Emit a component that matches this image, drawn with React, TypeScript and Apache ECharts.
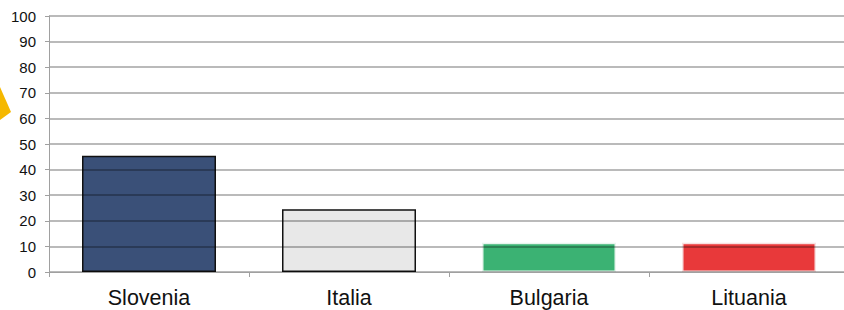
import React, { useEffect, useRef } from "react";
import * as echarts from "echarts";

const categories = ["Slovenia", "Italia", "Bulgaria", "Lituania"];
const values = [45.4, 24.5, 11.4, 11.4];
const barColors = ["#3a5078", "#e8e8e8", "#3bb273", "#e8393a"];
const barBorders = ["#111111", "#111111", "#e8f5ee", "#f8e0e0"];
const yTicks = [0, 10, 20, 30, 40, 50, 60, 70, 80, 90, 100];

export default function App() {
  const ref = useRef<HTMLDivElement>(null);
  useEffect(() => {
    if (!ref.current) return;
    const chart = echarts.init(ref.current, undefined, { renderer: "svg" });
    chart.setOption({
      animation: false,
      backgroundColor: "#ffffff",
      grid: { left: 49, right: 11, top: 16, bottom: 38, containLabel: false },
      graphic: [
        {
          type: "polygon",
          shape: { points: [[0, 87], [11, 112], [0, 120]] },
          style: { fill: "#f5b800" },
          z: -1,
        },
      ],
      xAxis: {
        type: "category",
        data: categories,
        axisLine: { lineStyle: { color: "#a0a0a0", width: 1 } },
        axisTick: { show: true, alignWithLabel: false, length: 5, lineStyle: { color: "#a0a0a0" } },
        axisLabel: {
          color: "#111111",
          fontFamily: "Liberation Sans, Arial, sans-serif",
          fontSize: 21.5,
          margin: 15,
        },
        z: 5,
      },
      yAxis: {
        type: "value",
        min: yTicks[0],
        max: yTicks[yTicks.length - 1],
        interval: 10,
        axisLine: { show: true, lineStyle: { color: "#a0a0a0", width: 1 } },
        axisTick: { show: true, length: 4, lineStyle: { color: "#a0a0a0" } },
        splitLine: { show: true, lineStyle: { color: "rgba(0,0,0,0.36)", width: 1.5 } },
        axisLabel: {
          color: "#111111",
          fontFamily: "Liberation Sans, Arial, sans-serif",
          fontSize: 15,
          margin: 13,
        },
        z: 5,
      },
      series: [
        {
          type: "bar",
          barWidth: 134,
          z: 2,
          data: values.map((v, i) => ({
            value: v,
            itemStyle: { color: barColors[i], borderColor: barBorders[i], borderWidth: 1.5 },
          })),
        },
      ],
    });
    return () => chart.dispose();
  }, []);
  return (
    <div
      style={{ position: "fixed", left: 0, top: 0, width: 844, height: 310, overflow: "hidden", background: "#fff" }}
    >
      <div ref={ref} style={{ width: 860, height: 310 }} />
    </div>
  );
}
